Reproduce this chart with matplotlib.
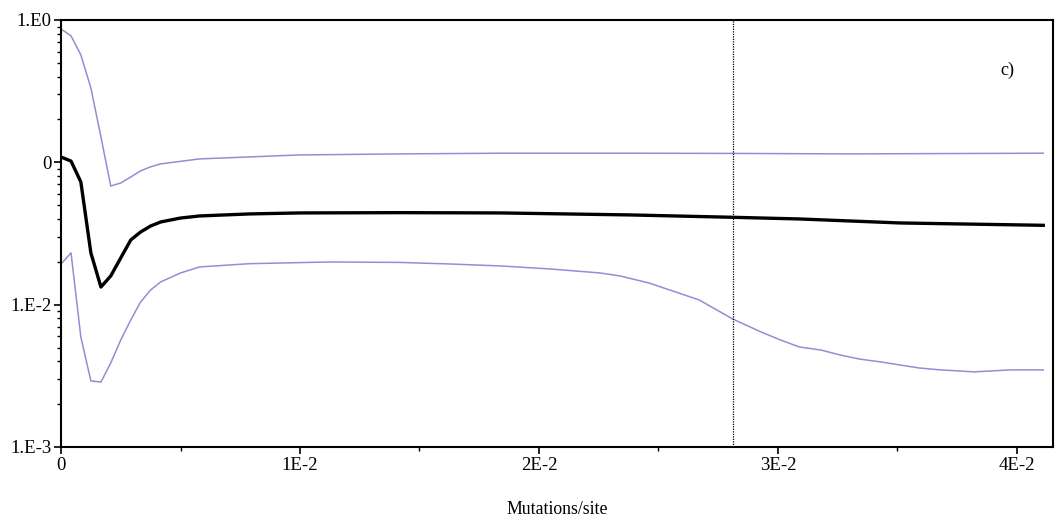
import numpy as np
import matplotlib.pyplot as plt
from matplotlib.ticker import FixedLocator, LogLocator, NullFormatter

plt.rcParams['font.family'] = ['Liberation Serif', 'DejaVu Serif']

# middle estimate (black)
mid_x = [0, 0.00042, 0.00083, 0.00125, 0.00167, 0.00208, 0.0025, 0.00292,
         0.00333, 0.00375, 0.00417, 0.0050, 0.0058, 0.0079, 0.0100, 0.0142,
         0.0184, 0.0238, 0.0281, 0.0309, 0.0351, 0.0411]
mid_y = [0.109, 0.102, 0.0728, 0.0231, 0.0133, 0.0159, 0.0213, 0.0285,
         0.0324, 0.0357, 0.0381, 0.0406, 0.0420, 0.0434, 0.0441, 0.0443,
         0.0441, 0.0427, 0.0411, 0.0400, 0.0375, 0.0361]

# upper bound (purple)
up_x = [0, 0.00042, 0.00083, 0.00125, 0.00167, 0.00208, 0.0025, 0.00292,
        0.00333, 0.00375, 0.00417, 0.0058, 0.0100, 0.0142, 0.0184, 0.0238,
        0.0281, 0.0330, 0.0411]
up_y = [0.865, 0.773, 0.569, 0.333, 0.151, 0.0682, 0.0716, 0.0789,
        0.0871, 0.0930, 0.0975, 0.1057, 0.1127, 0.1146, 0.1159, 0.1159,
        0.1155, 0.1146, 0.1159]

# lower bound (purple)
lo_x = [0, 0.00042, 0.00083, 0.00125, 0.00167, 0.00208, 0.0025, 0.00292,
        0.00333, 0.00375, 0.00417, 0.0050, 0.0058, 0.0079, 0.01125, 0.0142,
        0.0163, 0.0184, 0.0205, 0.02255, 0.0234, 0.0246, 0.0267, 0.0281,
        0.0292, 0.0301, 0.0309, 0.0318, 0.0326, 0.0334, 0.0343, 0.0351,
        0.0359, 0.0368, 0.0376, 0.0382, 0.0389, 0.0397, 0.0411]
lo_y = [0.0193, 0.0231, 0.00593, 0.00291, 0.00286, 0.00389, 0.00565, 0.00781,
        0.01044, 0.01268, 0.01444, 0.01670, 0.01841, 0.01941, 0.01995, 0.0198,
        0.0193, 0.0187, 0.0178, 0.0167, 0.0159, 0.0142, 0.0108, 0.00794,
        0.00653, 0.00565, 0.00504, 0.00480, 0.00443, 0.00415, 0.00396, 0.00377,
        0.00359, 0.00348, 0.00342, 0.00337, 0.00342, 0.00348, 0.00348]

x_ticks = [0, 0.01, 0.02, 0.03, 0.04]
x_labels = ['0', '1E-2', '2E-2', '3E-2', '4E-2']
y_ticks = [1e-3, 1e-2, 1e-1, 1e0]
y_labels = ['1.E-3', '1.E-2', '0', '1.E0']
vline_x = 0.02812

fig = plt.figure(figsize=(10.61, 5.22), dpi=100)
ax = fig.add_axes([0.0575, 0.1437, 0.935, 0.818])

purple = '#8f8fd4'
ax.plot(up_x, up_y, color=purple, lw=1.1)
ax.plot(lo_x, lo_y, color=purple, lw=1.1)
ax.plot(mid_x, mid_y, color='black', lw=2.4)
ax.axvline(vline_x, color='black', lw=0.9, ls=(0, (1, 1)))

ax.set_yscale('log')
ax.set_xlim(0, 0.04151)
ax.set_ylim(1e-3, 1e0)

ax.xaxis.set_major_locator(FixedLocator(x_ticks))
ax.set_xticklabels(x_labels)
ax.xaxis.set_minor_locator(FixedLocator([0.005, 0.015, 0.025, 0.035]))
ax.yaxis.set_major_locator(FixedLocator(y_ticks))
ax.set_yticklabels(y_labels)
ax.yaxis.set_minor_locator(LogLocator(base=10, subs=np.arange(2, 10)))
ax.yaxis.set_minor_formatter(NullFormatter())

ax.tick_params(axis='both', which='major', direction='out', length=5, width=1.2,
               labelsize=13.5, pad=2)
ax.tick_params(axis='both', which='minor', direction='out', length=3, width=1.0)
for s in ax.spines.values():
    s.set_linewidth(1.5)

ax.text(0.947, 0.872, 'c)', transform=ax.transAxes, fontsize=13)
ax.set_xlabel('Mutations/site', fontsize=12.8, labelpad=20)

plt.savefig('out.png', dpi=100)
